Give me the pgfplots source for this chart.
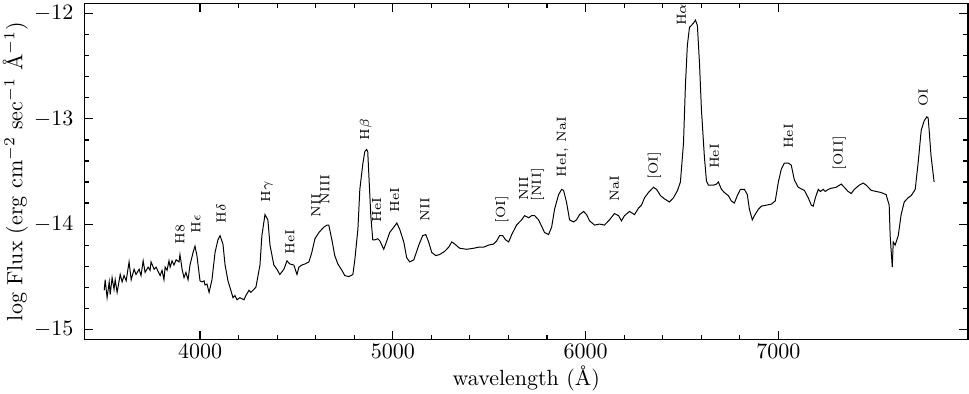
\documentclass[border=0pt]{standalone}
\usepackage{pgfplots}
\pgfplotsset{compat=1.18}
\begin{document}
\begin{tikzpicture}
\begin{axis}[
  width=402pt, height=153pt, scale only axis,
  xmin=3400, xmax=7985, ymin=-15.1, ymax=-11.9,
  xtick={4000,5000,6000,7000}, ytick={-15,-14,-13,-12},
  minor tick num=4,
  major tick length=4pt, minor tick length=2.2pt,
  tick style={black, line width=0.5pt},
  axis line style={line width=0.7pt},
  /pgf/number format/1000 sep={},
  xticklabel style={yshift=1.5pt},
  yticklabel style={xshift=-1.5pt, inner ysep=2pt},
  xlabel={wavelength (\AA)},
  ylabel={log Flux (erg cm$^{-2}$ sec$^{-1}$ \AA$^{-1}$)},
  xlabel style={inner sep=1pt, yshift=1pt},
  ylabel style={inner sep=1.3pt, yshift=-2pt},
  clip=false,
]
\addplot[black, line width=0.45pt, mark=none] coordinates {
(3503,-14.63) (3508,-14.53) (3518,-14.70) (3529,-14.55) (3534,-14.67) (3544,-14.51)
(3554,-14.62) (3560,-14.53) (3570,-14.65) (3586,-14.48) (3596,-14.55) (3606,-14.49)
(3617,-14.54) (3632,-14.36) (3643,-14.53) (3658,-14.43) (3668,-14.48) (3684,-14.43)
(3694,-14.49) (3705,-14.35) (3715,-14.46) (3731,-14.41) (3741,-14.44) (3746,-14.36)
(3762,-14.43) (3772,-14.41) (3793,-14.49) (3803,-14.44) (3813,-14.53) (3819,-14.41)
(3829,-14.44) (3839,-14.35) (3845,-14.41) (3855,-14.35) (3865,-14.39) (3876,-14.34)
(3891,-14.36) (3896,-14.29) (3907,-14.43) (3917,-14.51) (3927,-14.46) (3938,-14.53)
(3948,-14.39) (3964,-14.27) (3974,-14.21) (3984,-14.30) (4000,-14.54) (4010,-14.55)
(4021,-14.54) (4026,-14.58) (4036,-14.57) (4047,-14.65) (4062,-14.53) (4078,-14.27)
(4093,-14.15) (4104,-14.11) (4119,-14.19) (4130,-14.39) (4145,-14.54) (4155,-14.60)
(4171,-14.70) (4181,-14.68) (4192,-14.72) (4207,-14.70) (4228,-14.72) (4238,-14.68)
(4254,-14.63) (4264,-14.65) (4280,-14.62) (4290,-14.60) (4311,-14.39) (4321,-14.11)
(4337,-13.91) (4352,-13.96) (4363,-14.20) (4383,-14.39) (4399,-14.43) (4414,-14.48)
(4435,-14.43) (4451,-14.35) (4466,-14.38) (4487,-14.39) (4503,-14.48) (4513,-14.41)
(4528,-14.39) (4544,-14.38) (4565,-14.36) (4580,-14.27) (4596,-14.14) (4617,-14.08)
(4642,-14.03) (4658,-14.01) (4668,-14.01) (4684,-14.15) (4699,-14.30) (4715,-14.38)
(4736,-14.44) (4751,-14.49) (4772,-14.50) (4793,-14.48) (4803,-14.34) (4819,-14.05)
(4829,-13.67) (4845,-13.42) (4855,-13.31) (4864,-13.29) (4870,-13.31) (4876,-13.54) (4886,-13.92)
(4896,-14.15) (4907,-14.15) (4922,-14.14) (4933,-14.16) (4953,-14.24) (4969,-14.16)
(4984,-14.08) (5005,-14.03) (5021,-13.99) (5036,-14.05) (5057,-14.17) (5072,-14.32)
(5088,-14.36) (5109,-14.34) (5135,-14.20) (5155,-14.11) (5171,-14.10) (5186,-14.17)
(5202,-14.27) (5223,-14.30) (5243,-14.29) (5269,-14.26) (5290,-14.22) (5306,-14.17)
(5321,-14.19) (5347,-14.23) (5383,-14.24) (5420,-14.23) (5445,-14.22) (5471,-14.22)
(5497,-14.20) (5523,-14.19) (5539,-14.16) (5554,-14.11) (5570,-14.11) (5585,-14.15)
(5601,-14.17) (5617,-14.10) (5642,-14.01) (5668,-13.96) (5684,-13.92) (5705,-13.94)
(5720,-13.92) (5736,-13.92) (5756,-13.96) (5772,-14.02) (5787,-14.08) (5808,-14.10)
(5824,-14.03) (5839,-13.86) (5860,-13.72) (5876,-13.67) (5886,-13.68) (5901,-13.79)
(5917,-13.96) (5938,-13.98) (5953,-13.96) (5969,-13.91) (5990,-13.88) (6005,-13.91)
(6021,-13.97) (6047,-14.01) (6072,-14.00) (6098,-14.01) (6124,-13.96) (6150,-13.90)
(6171,-13.92) (6186,-13.97) (6202,-13.92) (6228,-13.88) (6254,-13.91) (6274,-13.85)
(6290,-13.82) (6306,-13.75) (6326,-13.70) (6352,-13.65) (6368,-13.67) (6389,-13.73)
(6409,-13.76) (6435,-13.79) (6456,-13.75) (6477,-13.68) (6492,-13.60) (6508,-13.23)
(6518,-12.68) (6528,-12.30) (6539,-12.13) (6559,-12.09) (6570,-12.06) (6580,-12.11)
(6591,-12.47) (6601,-12.91) (6616,-13.35) (6627,-13.59) (6637,-13.63) (6663,-13.63)
(6679,-13.62) (6689,-13.60) (6705,-13.67) (6720,-13.70) (6741,-13.73) (6756,-13.78)
(6772,-13.80) (6787,-13.73) (6803,-13.67) (6824,-13.67) (6839,-13.72) (6850,-13.86)
(6865,-13.96) (6876,-13.92) (6896,-13.86) (6912,-13.83) (6938,-13.82) (6964,-13.81)
(6984,-13.78) (7000,-13.60) (7015,-13.48) (7031,-13.42) (7052,-13.42) (7067,-13.44)
(7083,-13.58) (7103,-13.65) (7135,-13.68) (7155,-13.75) (7171,-13.82) (7181,-13.83)
(7192,-13.75) (7207,-13.67) (7218,-13.69) (7233,-13.67) (7243,-13.69) (7259,-13.67)
(7274,-13.66) (7300,-13.65) (7326,-13.62) (7342,-13.65) (7362,-13.69) (7378,-13.71)
(7394,-13.67) (7420,-13.63) (7440,-13.61) (7456,-13.63) (7482,-13.68) (7508,-13.69)
(7533,-13.70) (7559,-13.72) (7575,-13.82) (7580,-14.11) (7591,-14.41) (7596,-14.17)
(7606,-14.20) (7622,-14.11) (7637,-13.91) (7653,-13.79) (7673,-13.75) (7689,-13.73)
(7710,-13.67) (7725,-13.42) (7741,-13.11) (7756,-13.02) (7770,-12.98) (7777,-12.99) (7782,-13.10)
(7792,-13.35) (7808,-13.60)
};
% line identifications
\begin{scope}[every node/.style={rotate=90, anchor=west, inner sep=0pt, font=\fontsize{6}{7}\selectfont}]
\node at (axis cs:3896,-14.20) {H8};
\node at (axis cs:3979,-14.09) {H$\epsilon$};
\node at (axis cs:4109,-14.00) {H$\delta$};
\node at (axis cs:4347,-13.80) {H$\gamma$};
\node at (axis cs:4466,-14.29) {HeI};
\node at (axis cs:4601,-13.94) {NII};
\node at (axis cs:4648,-13.82) {NIII};
\node at (axis cs:4860,-13.21) {H$\beta$};
\node at (axis cs:4917,-13.99) {HeI};
\node at (axis cs:5010,-13.89) {HeI};
\node at (axis cs:5166,-13.98) {NII};
\node at (axis cs:5565,-14.00) {[OI]};
\node at (axis cs:5679,-13.78) {NII};
\node at (axis cs:5751,-13.79) {[NII]};
\node at (axis cs:5881,-13.56) {HeI, NaI};
\node at (axis cs:6150,-13.79) {NaI};
\node at (axis cs:6357,-13.58) {[OI]};
\node at (axis cs:6497,-12.12) {H$\alpha$};
\node at (axis cs:6668,-13.48) {HeI};
\node at (axis cs:7052,-13.29) {HeI};
\node at (axis cs:7316,-13.49) {[OII]};
\node at (axis cs:7751,-12.89) {OI};
\end{scope}
\end{axis}
% a little room above the frame
\path (current axis.north west) ++(0,1.5pt);
\end{tikzpicture}
\end{document}
